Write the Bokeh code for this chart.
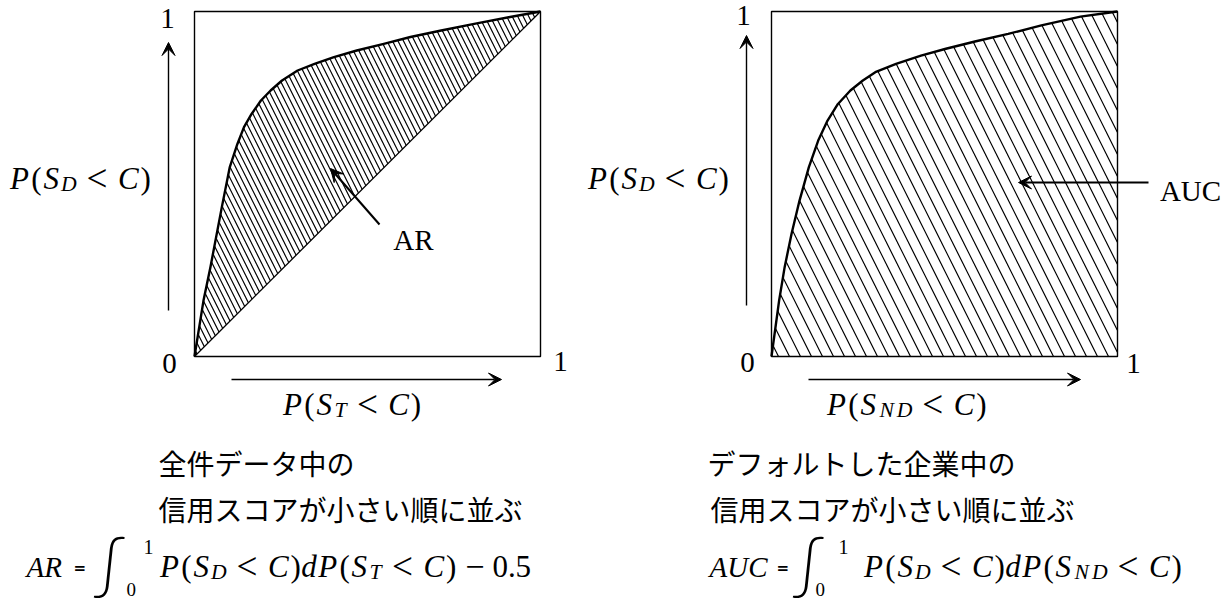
from bokeh.plotting import figure
from bokeh.models import Range1d, Label, Arrow, VeeHead
from bokeh.embed import file_html
from bokeh.resources import INLINE

# ROC curve of the AR panel: P(S_T < C) -> P(S_D < C)
ar_x = [0.0, 0.026, 0.046, 0.079, 0.102, 0.124, 0.143, 0.165, 0.192, 0.220, 0.253,
        0.298, 0.347, 0.403, 0.469, 0.547, 0.624, 0.713, 0.812, 0.912, 1.0]
ar_y = [0.0, 0.162, 0.259, 0.433, 0.549, 0.616, 0.665, 0.703, 0.742, 0.771, 0.800,
        0.829, 0.848, 0.868, 0.887, 0.906, 0.926, 0.945, 0.965, 0.984, 1.0]

# ROC curve of the AUC panel: P(S_ND < C) -> P(S_D < C)
auc_x = [0.0, 0.022, 0.038, 0.058, 0.081, 0.108, 0.135, 0.162, 0.192, 0.228, 0.264,
         0.300, 0.360, 0.432, 0.504, 0.588, 0.684, 0.780, 0.893, 1.0]
auc_y = [0.0, 0.162, 0.259, 0.356, 0.452, 0.549, 0.626, 0.684, 0.732, 0.771, 0.800,
         0.824, 0.848, 0.872, 0.892, 0.913, 0.935, 0.960, 0.985, 1.0]

# random-model diagonal of the AR panel
diag_x = [0.0, 1.0]
diag_y = [0.0, 1.0]

W, H = 1230, 600
BOX_W, BOX_H = 346, 345              # pixel size of the unit square
PANEL_LEFT = {"default": 194, "auc": 771}
BOX_BOTTOM = 356
BASE_FIX = 11                        # lifts alphabetic baselines onto the glyph foot

SERIF = "Liberation Serif"
JP = "Noto Sans CJK JP"
THIN = "'Lato Light', 'DejaVu Serif'"

def X(px, rng="default"):
    return (px - PANEL_LEFT[rng]) / BOX_W

def Y(py):
    return (BOX_BOTTOM - py) / BOX_H

p = figure(width=W, height=H, output_backend="svg", toolbar_location=None,
           x_range=Range1d(X(0), X(W)), y_range=Range1d(Y(H), Y(0)),
           x_axis_location=None, y_axis_location=None, min_border=0)
p.extra_x_ranges = {"auc": Range1d(X(0, "auc"), X(W, "auc"))}
p.grid.visible = False
p.outline_line_color = None
p.background_fill_color = "white"
p.border_fill_color = "white"

# ---- hatched areas -------------------------------------------------------
p.varea(x=ar_x, y1=ar_x, y2=ar_y, fill_color="white", fill_alpha=0,
        hatch_pattern="\\", hatch_scale=11, hatch_weight=1.2, hatch_color="black")
p.varea(x=auc_x, y1=[0.0] * len(auc_x), y2=auc_y, fill_color="white", fill_alpha=0,
        hatch_pattern="\\", hatch_scale=22, hatch_weight=1.2, hatch_color="black",
        x_range_name="auc")

# ---- frames, diagonal and curves -----------------------------------------
for rng in ("default", "auc"):
    p.quad(left=0, right=1, bottom=0, top=1, fill_alpha=0, line_color="black",
           line_width=1.4, x_range_name=rng)
p.line(diag_x, diag_y, line_color="black", line_width=1.3)
p.line(ar_x, ar_y, line_color="black", line_width=2.4, line_join="round")
p.line(auc_x, auc_y, line_color="black", line_width=2.4, line_join="round",
       x_range_name="auc")

# ---- arrows ----------------------------------------------------------------
def arrow(x0, y0, x1, y1, rng="default", lw=1.4):
    p.add_layout(Arrow(x_start=X(x0, rng), y_start=Y(y0), x_end=X(x1, rng), y_end=Y(y1),
                       line_width=lw, line_color="black",
                       end=VeeHead(size=13, fill_color="black", line_color="black", line_width=1),
                       x_range_name=rng))

arrow(168, 310, 168, 42)
arrow(231, 379, 501, 379)
arrow(379, 224, 330, 168, lw=2.0)
arrow(746, 305, 746, 35, "auc")
arrow(808, 379, 1080, 379, "auc")
arrow(1148, 182, 1018, 182, "auc", lw=2.0)

# ---- plain labels ----------------------------------------------------------
def text(px, py, s, rng="default", size=29, font=SERIF, style="normal",
         align="center", baseline="alphabetic"):
    if baseline == "alphabetic":
        py -= BASE_FIX
    p.add_layout(Label(x=X(px, rng), y=Y(py), text=s, x_range_name=rng, text_font=font,
                       text_font_size=f"{size}px", text_font_style=style,
                       text_align=align, text_baseline=baseline, text_color="black"))

text(167, 29, "1")
text(169, 374, "0")
text(560, 372, "1")
text(413, 250, "AR")
text(743, 26, "1", "auc")
text(747, 373, "0", "auc")
text(1133, 374, "1", "auc")
text(1190, 201, "AUC", "auc")

text(158, 462, "全件データ中の", size=28, font=JP, align="left", baseline="middle")
text(158, 508, "信用スコアが小さい順に並ぶ", size=28, font=JP, align="left", baseline="middle")
text(707, 462, "デフォルトした企業中の", "auc", size=28, font=JP, align="left", baseline="middle")
text(710, 508, "信用スコアが小さい順に並ぶ", "auc", size=28, font=JP, align="left", baseline="middle")

# ---- math runs: glyphs set one by one, each centred in a TeX-like advance --
ADV = {"P": 0.751, "S": 0.613, "D": 0.828, "C": 0.786, "T": 0.704, "N": 0.912,
       "d": 0.52, "(": 0.389, ")": 0.389, "<": 0.778, "−": 0.778,
       "0": 0.5, "1": 0.5, ".": 0.278, "5": 0.5}
ITALIC = set("PSDCTNd")
GROW = {"<": 1.2, "−": 1.1}          # relation/operator glyphs drawn a bit larger
EM = 29.5        # advance unit
GLYPH = 31       # drawn glyph size
THICK, MED = 0.278, 0.222

def math(px, py, tokens, rng="default"):
    off = 0.0
    for tok in tokens:
        if isinstance(tok, (int, float)):
            off += tok * EM
            continue
        sub = tok.startswith("_")
        chars = tok[1:] if sub else tok
        k = 0.7 if sub else 1.0
        for ch in chars:
            adv = ADV[ch] * EM * k
            fs = GLYPH * k * GROW.get(ch, 1.0)
            p.add_layout(Label(x=X(px, rng), y=Y(py - BASE_FIX), x_offset=off + adv / 2,
                               y_offset=(-0.17 * EM if sub else 0),
                               text=ch, x_range_name=rng, text_font=SERIF,
                               text_font_size=f"{fs:.1f}px",
                               text_font_style="italic" if ch in ITALIC else "normal",
                               text_align="center", text_baseline="alphabetic",
                               text_color="black"))
            off += adv

def prob(sub):
    return ["P", "(", "S", "_" + sub, THICK, "<", THICK, "C", ")"]

math(8, 189, prob("D"))
math(281, 415, prob("T"))
math(586, 189, prob("D"), "auc")
math(825, 415, prob("ND"), "auc")

# ---- integral formulas -------------------------------------------------------
def formula(rng, x_name, name, x_eq, x_int, dx_lo, dx_hi, x_body, body):
    text(x_name, 577, name, rng, style="italic", align="left")
    text(x_eq, 567, "=", rng, size=15, font="DejaVu Sans", style="bold",
         align="left", baseline="middle")
    text(x_int, 562, "∫", rng, size=62, font=THIN, style="italic",
         align="left", baseline="middle")
    text(x_int + dx_hi, 546, "1", rng, size=20, align="left", baseline="middle")
    text(x_int + dx_lo, 589, "0", rng, size=19, align="left", baseline="middle")
    math(x_body, 577, body, rng)

formula("default", 26, "AR", 73, 96, 30, 47, 158,
        prob("D") + ["d"] + prob("T") + [MED, "−", MED, "0", ".", "5"])
formula("auc", 709, "AUC", 776, 795, 20, 43, 862,
        prob("D") + ["d"] + prob("ND"))

out = file_html(p, INLINE)
open("out.html", "w").write(out)
